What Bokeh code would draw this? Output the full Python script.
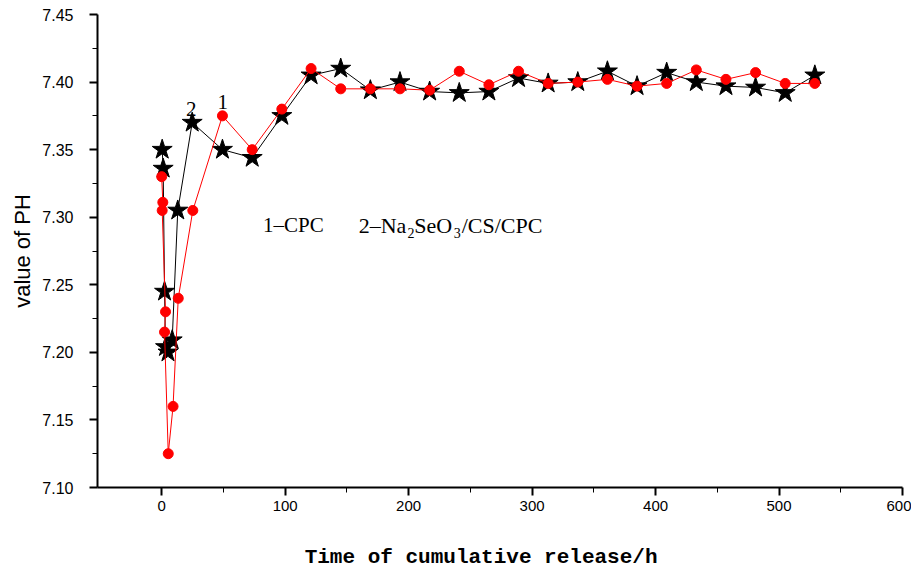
from bokeh.plotting import figure
from bokeh.models import Range1d, FixedTicker, NumeralTickFormatter, Label, ColumnDataSource
from bokeh.embed import file_html
from bokeh.resources import INLINE

# --- data ---
cpc_time = [0, 0.9, 0.4, 3.1, 2.3, 5.3, 9.2, 13.4, 25.2, 49.2, 73.3, 97.3,
            121, 145, 169, 193, 217, 241, 265, 289, 313, 337, 361, 385, 409, 433, 457, 481, 505, 529]
cpc_ph = [7.330, 7.311, 7.305, 7.230, 7.215, 7.125, 7.160, 7.240, 7.305, 7.375, 7.350, 7.380,
          7.410, 7.395, 7.395, 7.395, 7.394, 7.408, 7.398, 7.408, 7.399, 7.400, 7.402, 7.397,
          7.399, 7.409, 7.402, 7.407, 7.399, 7.399]

se_time = [0.4, 1.2, 2.3, 3.1, 5.1, 8.5, 13.0, 24.7, 49.2, 73.3, 97.3,
           121, 145, 169, 193, 217, 241, 265, 289, 313, 337, 361, 385, 409, 433, 457, 481, 505, 529]
se_ph = [7.350, 7.336, 7.245, 7.204, 7.200, 7.209, 7.305, 7.370, 7.350, 7.344, 7.375,
         7.405, 7.410, 7.394, 7.400, 7.393, 7.392, 7.393, 7.403, 7.399, 7.400, 7.408, 7.397,
         7.407, 7.400, 7.397, 7.396, 7.392, 7.405]

x_major = [0, 100, 200, 300, 400, 500, 600]
x_minor = [50, 150, 250, 350, 450, 550]
y_major = [7.10, 7.15, 7.20, 7.25, 7.30, 7.35, 7.40, 7.45]
y_minor = [7.125, 7.175, 7.225, 7.275, 7.325, 7.375, 7.425]

p = figure(width=911, height=573, output_backend="svg", toolbar_location=None,
           x_range=Range1d(-52, 600), y_range=Range1d(7.10, 7.45),
           min_border_left=97, min_border_right=9, min_border_top=14, min_border_bottom=86)
p.outline_line_color = None
p.xgrid.visible = False
p.ygrid.visible = False
p.background_fill_color = "white"

for ax in (p.xaxis[0], p.yaxis[0]):
    ax.axis_line_width = 2
    ax.axis_line_color = "black"
    ax.major_tick_line_width = 2
    ax.minor_tick_line_width = 1
    ax.major_tick_out = 8
    ax.major_tick_in = 0
    ax.minor_tick_out = 5
    ax.minor_tick_in = 0
    ax.major_label_text_font = "Liberation Sans"
    ax.major_label_text_color = "black"
    ax.axis_label_text_color = "black"
    ax.axis_label_text_font_style = "normal"

p.xaxis.ticker = FixedTicker(ticks=x_major, minor_ticks=x_minor)
p.yaxis.ticker = FixedTicker(ticks=y_major, minor_ticks=y_minor)
p.yaxis.formatter = NumeralTickFormatter(format="0.00")
p.xaxis.major_label_text_font_size = "15px"
p.yaxis.major_label_text_font_size = "16px"
p.xaxis.major_label_standoff = 5
p.yaxis.major_label_standoff = 16

p.yaxis.axis_label = "value of PH"
p.yaxis.axis_label_text_font = "Liberation Sans"
p.yaxis.axis_label_text_font_size = "22px"
p.yaxis.axis_label_standoff = 4

# trailing no-break spaces shift the centred title a little to the left, as in the reference
p.xaxis.axis_label = "Time of cumulative release/h" + "\u00a0" * 3
p.xaxis.axis_label_text_font = "Liberation Mono"
p.xaxis.axis_label_text_font_size = "21px"
p.xaxis.axis_label_text_font_style = "bold"
p.xaxis.axis_label_standoff = 32

se_src = ColumnDataSource(dict(t=se_time, ph=se_ph))
cpc_src = ColumnDataSource(dict(t=cpc_time, ph=cpc_ph))

p.line("t", "ph", source=se_src, line_color="black", line_width=1)
p.scatter("t", "ph", source=se_src, marker="star", size=21, fill_color="black", line_color="black")
p.line("t", "ph", source=cpc_src, line_color="red", line_width=1)
p.scatter("t", "ph", source=cpc_src, marker="circle", size=10, fill_color="red", line_color="red")

serif = "Liberation Serif"
p.add_layout(Label(x=24.0, y=7.380, text="2", text_font=serif, text_font_size="21px",
                   text_align="center", text_baseline="alphabetic", text_color="black"))
p.add_layout(Label(x=49.5, y=7.385, text="1", text_font=serif, text_font_size="21px",
                   text_align="center", text_baseline="alphabetic", text_color="black"))

leg_y = 7.294
sub_y = 7.288
big = "22px"
small = "14px"
p.add_layout(Label(x=82.0, y=leg_y, text="1\u2013CPC", text_font=serif, text_font_size="21px",
                   text_baseline="alphabetic", text_color="black"))
p.add_layout(Label(x=159.5, y=leg_y, text="2\u2013Na", text_font=serif, text_font_size=big,
                   text_baseline="alphabetic", text_color="black"))
p.add_layout(Label(x=199.0, y=sub_y, text="2", text_font=serif, text_font_size=small,
                   text_baseline="alphabetic", text_color="black"))
p.add_layout(Label(x=204.5, y=leg_y, text="SeO", text_font=serif, text_font_size=big,
                   text_baseline="alphabetic", text_color="black"))
p.add_layout(Label(x=236.5, y=sub_y, text="3", text_font=serif, text_font_size=small,
                   text_baseline="alphabetic", text_color="black"))
p.add_layout(Label(x=243.0, y=leg_y, text="/CS/CPC", text_font=serif, text_font_size=big,
                   text_baseline="alphabetic", text_color="black"))

open("out.html", "w").write(file_html(p, INLINE))
